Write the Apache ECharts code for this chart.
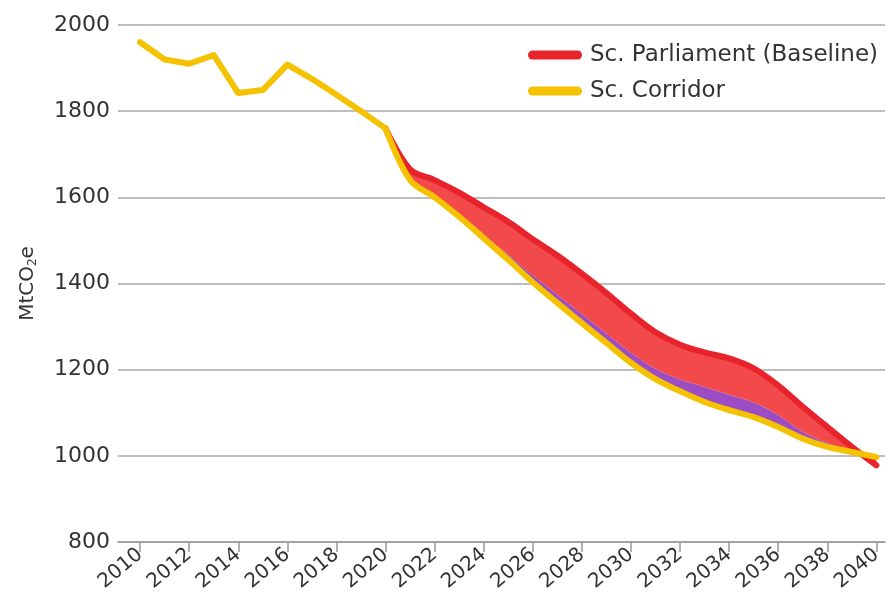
<!DOCTYPE html>
<html>
<head>
<meta charset="utf-8">
<script src="https://cdn.jsdelivr.net/npm/echarts@6/dist/echarts.min.js"></script>
<style>html,body{margin:0;padding:0;background:#fff}#c{width:890px;height:611px}</style>
</head>
<body>
<div id="c"></div>
<script>
// ---- data ----
const histYears = [2010,2011,2012,2013,2014,2015,2016,2017,2018,2019,2020];
const corridorHist = [1960,1920,1910,1930,1842,1849,1908,1875,1838,1800,1760];
const projYears = [2020,2021,2022,2023,2024,2025,2026,2027,2028,2029,2030,2031,2032,2033,2034,2035,2036,2037,2038,2039,2040];
const corridorProj = [1760,1640,1600,1555,1505,1455,1403,1355,1308,1262,1216,1178,1150,1125,1106,1090,1067,1040,1021,1009,997];
const overlapTop = [1760,1645,1606,1562,1514,1467,1419,1374,1329,1284,1239,1202,1177,1160,1142,1124,1095,1056,1030,1012,997];
const parliament = [1760,1665,1640,1611,1577,1543,1503,1465,1423,1378,1330,1287,1258,1240,1226,1203,1163,1114,1067,1021,978];
const xTickLabels = [2010,2012,2014,2016,2018,2020,2022,2024,2026,2028,2030,2032,2034,2036,2038,2040];
const seriesNames = ['Sc. Parliament (Baseline)', 'Sc. Corridor'];

const YELLOW = '#f4c200', RED = '#e8232b', REDFILL = '#f24a4a', PURPLE = '#9c4dc4';
const FONT = 'DejaVu Sans';
const SM = 0.35;

const pairs = (xs, ys) => xs.map((x, i) => [x, ys[i]]);
// value first so the stacked dimension is y
const vpairs = (xs, ys) => xs.map((x, i) => [ys[i], x]);
const diff = (a, b) => a.map((v, i) => v - b[i]);

const chart = echarts.init(document.getElementById('c'), null, {renderer: 'canvas'});
chart.setOption({
  animation: false,
  backgroundColor: '#fff',
  grid: {left: 118, right: 5, top: 25, bottom: 69},
  legend: {
    data: seriesNames,
    orient: 'vertical',
    left: 523, top: 38,
    itemWidth: 54, itemHeight: 9, itemGap: 12,
    icon: 'path://M4.5,0 H49.5 A4.5,4.5 0 0 1 49.5,9 H4.5 A4.5,4.5 0 0 1 4.5,0 Z',
    textStyle: {fontFamily: FONT, fontSize: 23, color: '#333', lineHeight: 24, padding: [0, 0, 0, 3]}
  },
  xAxis: {
    type: 'value', min: 2009.1, max: 2040.35,
    axisLine: {show: true, lineStyle: {color: '#999', width: 1.5}},
    axisTick: {show: true, customValues: xTickLabels, length: 10, lineStyle: {color: '#999', width: 1.5}},
    axisLabel: {customValues: xTickLabels, rotate: 40, margin: 10, fontFamily: FONT, fontSize: 20, color: '#333',
                formatter: v => String(v)},
    splitLine: {show: false}
  },
  yAxis: {
    type: 'value', min: 800, max: 2000, interval: 200,
    name: 'MtCO{sub|2}e', nameLocation: 'middle', nameRotate: 90, nameGap: 79,
    nameTextStyle: {fontFamily: FONT, fontSize: 20, color: '#333',
      rich: {sub: {fontFamily: FONT, fontSize: 12, color: '#333', verticalAlign: 'bottom', padding: [10, 0, 0, 0]}}},
    axisLine: {show: false}, axisTick: {show: false},
    axisLabel: {fontFamily: FONT, fontSize: 22, color: '#333', margin: 8, formatter: v => String(v)},
    splitLine: {show: true, lineStyle: {color: '#a8a8a8', width: 1.5}}
  },
  series: [
    {name: 'base', type: 'line', stack: 'band', stackStrategy: 'all', smooth: SM, symbol: 'none',
     encode: {x: 1, y: 0},
     data: vpairs(projYears, corridorProj), lineStyle: {opacity: 0}, areaStyle: {opacity: 0}, silent: true},
    {name: 'overlap', type: 'line', stack: 'band', stackStrategy: 'all', smooth: SM, symbol: 'none',
     encode: {x: 1, y: 0},
     data: vpairs(projYears, diff(overlapTop, corridorProj)), lineStyle: {opacity: 0},
     areaStyle: {color: PURPLE, opacity: 1}, silent: true},
    {name: 'parliamentBand', type: 'line', stack: 'band', stackStrategy: 'all', smooth: SM, symbol: 'none',
     encode: {x: 1, y: 0},
     data: vpairs(projYears, diff(parliament, overlapTop)), lineStyle: {opacity: 0},
     areaStyle: {color: REDFILL, opacity: 1}, silent: true},
    {name: seriesNames[0], type: 'line', smooth: SM, symbol: 'none', color: RED,
     data: pairs(projYears, parliament), lineStyle: {color: RED, width: 6, cap: 'round', join: 'round'}},
    {name: seriesNames[1], type: 'line', smooth: SM, symbol: 'none', color: YELLOW,
     data: pairs(projYears, corridorProj), lineStyle: {color: YELLOW, width: 6, cap: 'round', join: 'round'}},
    {name: seriesNames[1], type: 'line', smooth: false, symbol: 'none', color: YELLOW,
     data: pairs(histYears, corridorHist), lineStyle: {color: YELLOW, width: 6, cap: 'round', join: 'round'}}
  ]
});
</script>
</body>
</html>
